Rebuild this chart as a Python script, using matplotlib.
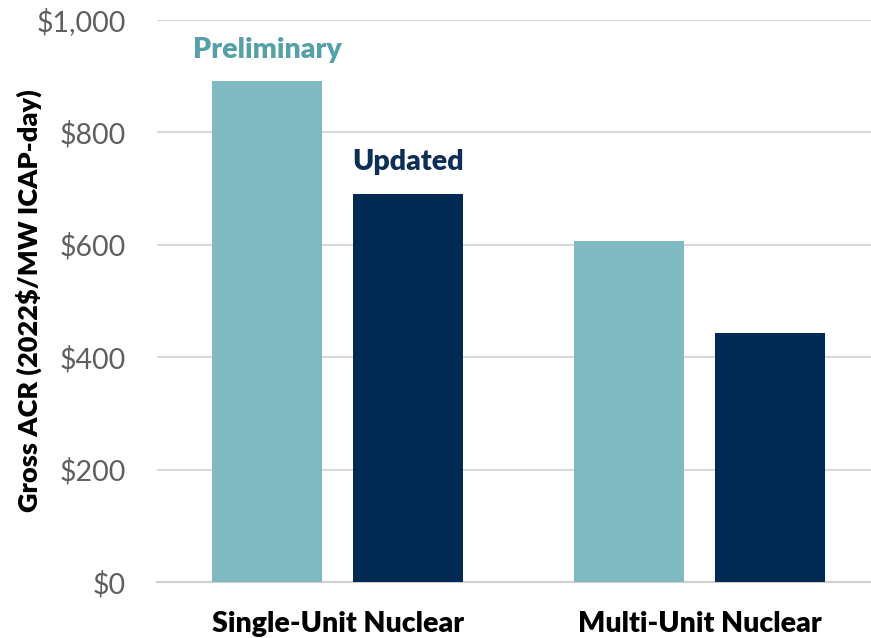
import numpy as np
import matplotlib.pyplot as plt

categories = ['Single-Unit Nuclear', 'Multi-Unit Nuclear']
series = ['Preliminary', 'Updated']
preliminary = [892, 607]
updated = [690, 443]
yticks = [0, 200, 400, 600, 800, 1000]

c_prelim = '#7fb9c2'
c_upd = '#002a52'

plt.rcParams['font.family'] = ['Lato', 'DejaVu Sans']

fig = plt.figure(figsize=(8.71, 6.38), dpi=100)
ax = fig.add_axes([0.180, 0.0878, 0.831, 0.881])

x = np.arange(len(categories))
w = 0.304
off = 0.195
ax.bar(x - off, preliminary, w, color=c_prelim, zorder=3)
ax.bar(x + off, updated, w, color=c_upd, zorder=3)

# series labels over the first group only
ax.annotate(series[0], (x[0] - off, preliminary[0]), xytext=(0, 22),
            textcoords='offset points', ha='center', va='center',
            fontsize=20.5, fontweight='heavy', color='#56a0aa')
ax.annotate(series[1], (x[0] + off, updated[0]), xytext=(0, 23),
            textcoords='offset points', ha='center', va='center',
            fontsize=20.5, fontweight='heavy', color='#0d2e57')

ax.set_xlim(-0.5, 1.5)
ax.set_ylim(0, 1000)
ax.set_yticks(yticks)
ax.set_yticklabels([f'${v:,}' for v in yticks], fontsize=20.5, color='#5f5f5f')
ax.set_xticks(x)
ax.set_xticklabels(categories, fontsize=20.5, fontweight='heavy', color='black')
ax.tick_params(axis='both', length=0)
ax.tick_params(axis='x', pad=21)
ax.tick_params(axis='y', pad=22)
ax.grid(axis='y', color='#d9d9d9', linewidth=1.5, zorder=0)
for s in ['top', 'right', 'left']:
    ax.spines[s].set_visible(False)
ax.spines['bottom'].set_color('#d0d0d0')
ax.spines['bottom'].set_linewidth(1.5)

ax.set_ylabel('Gross ACR (2022$/MW ICAP-day)', fontsize=19.5, fontweight='heavy',
              color='black', labelpad=-4)

fig.savefig('out.png', dpi=100)
